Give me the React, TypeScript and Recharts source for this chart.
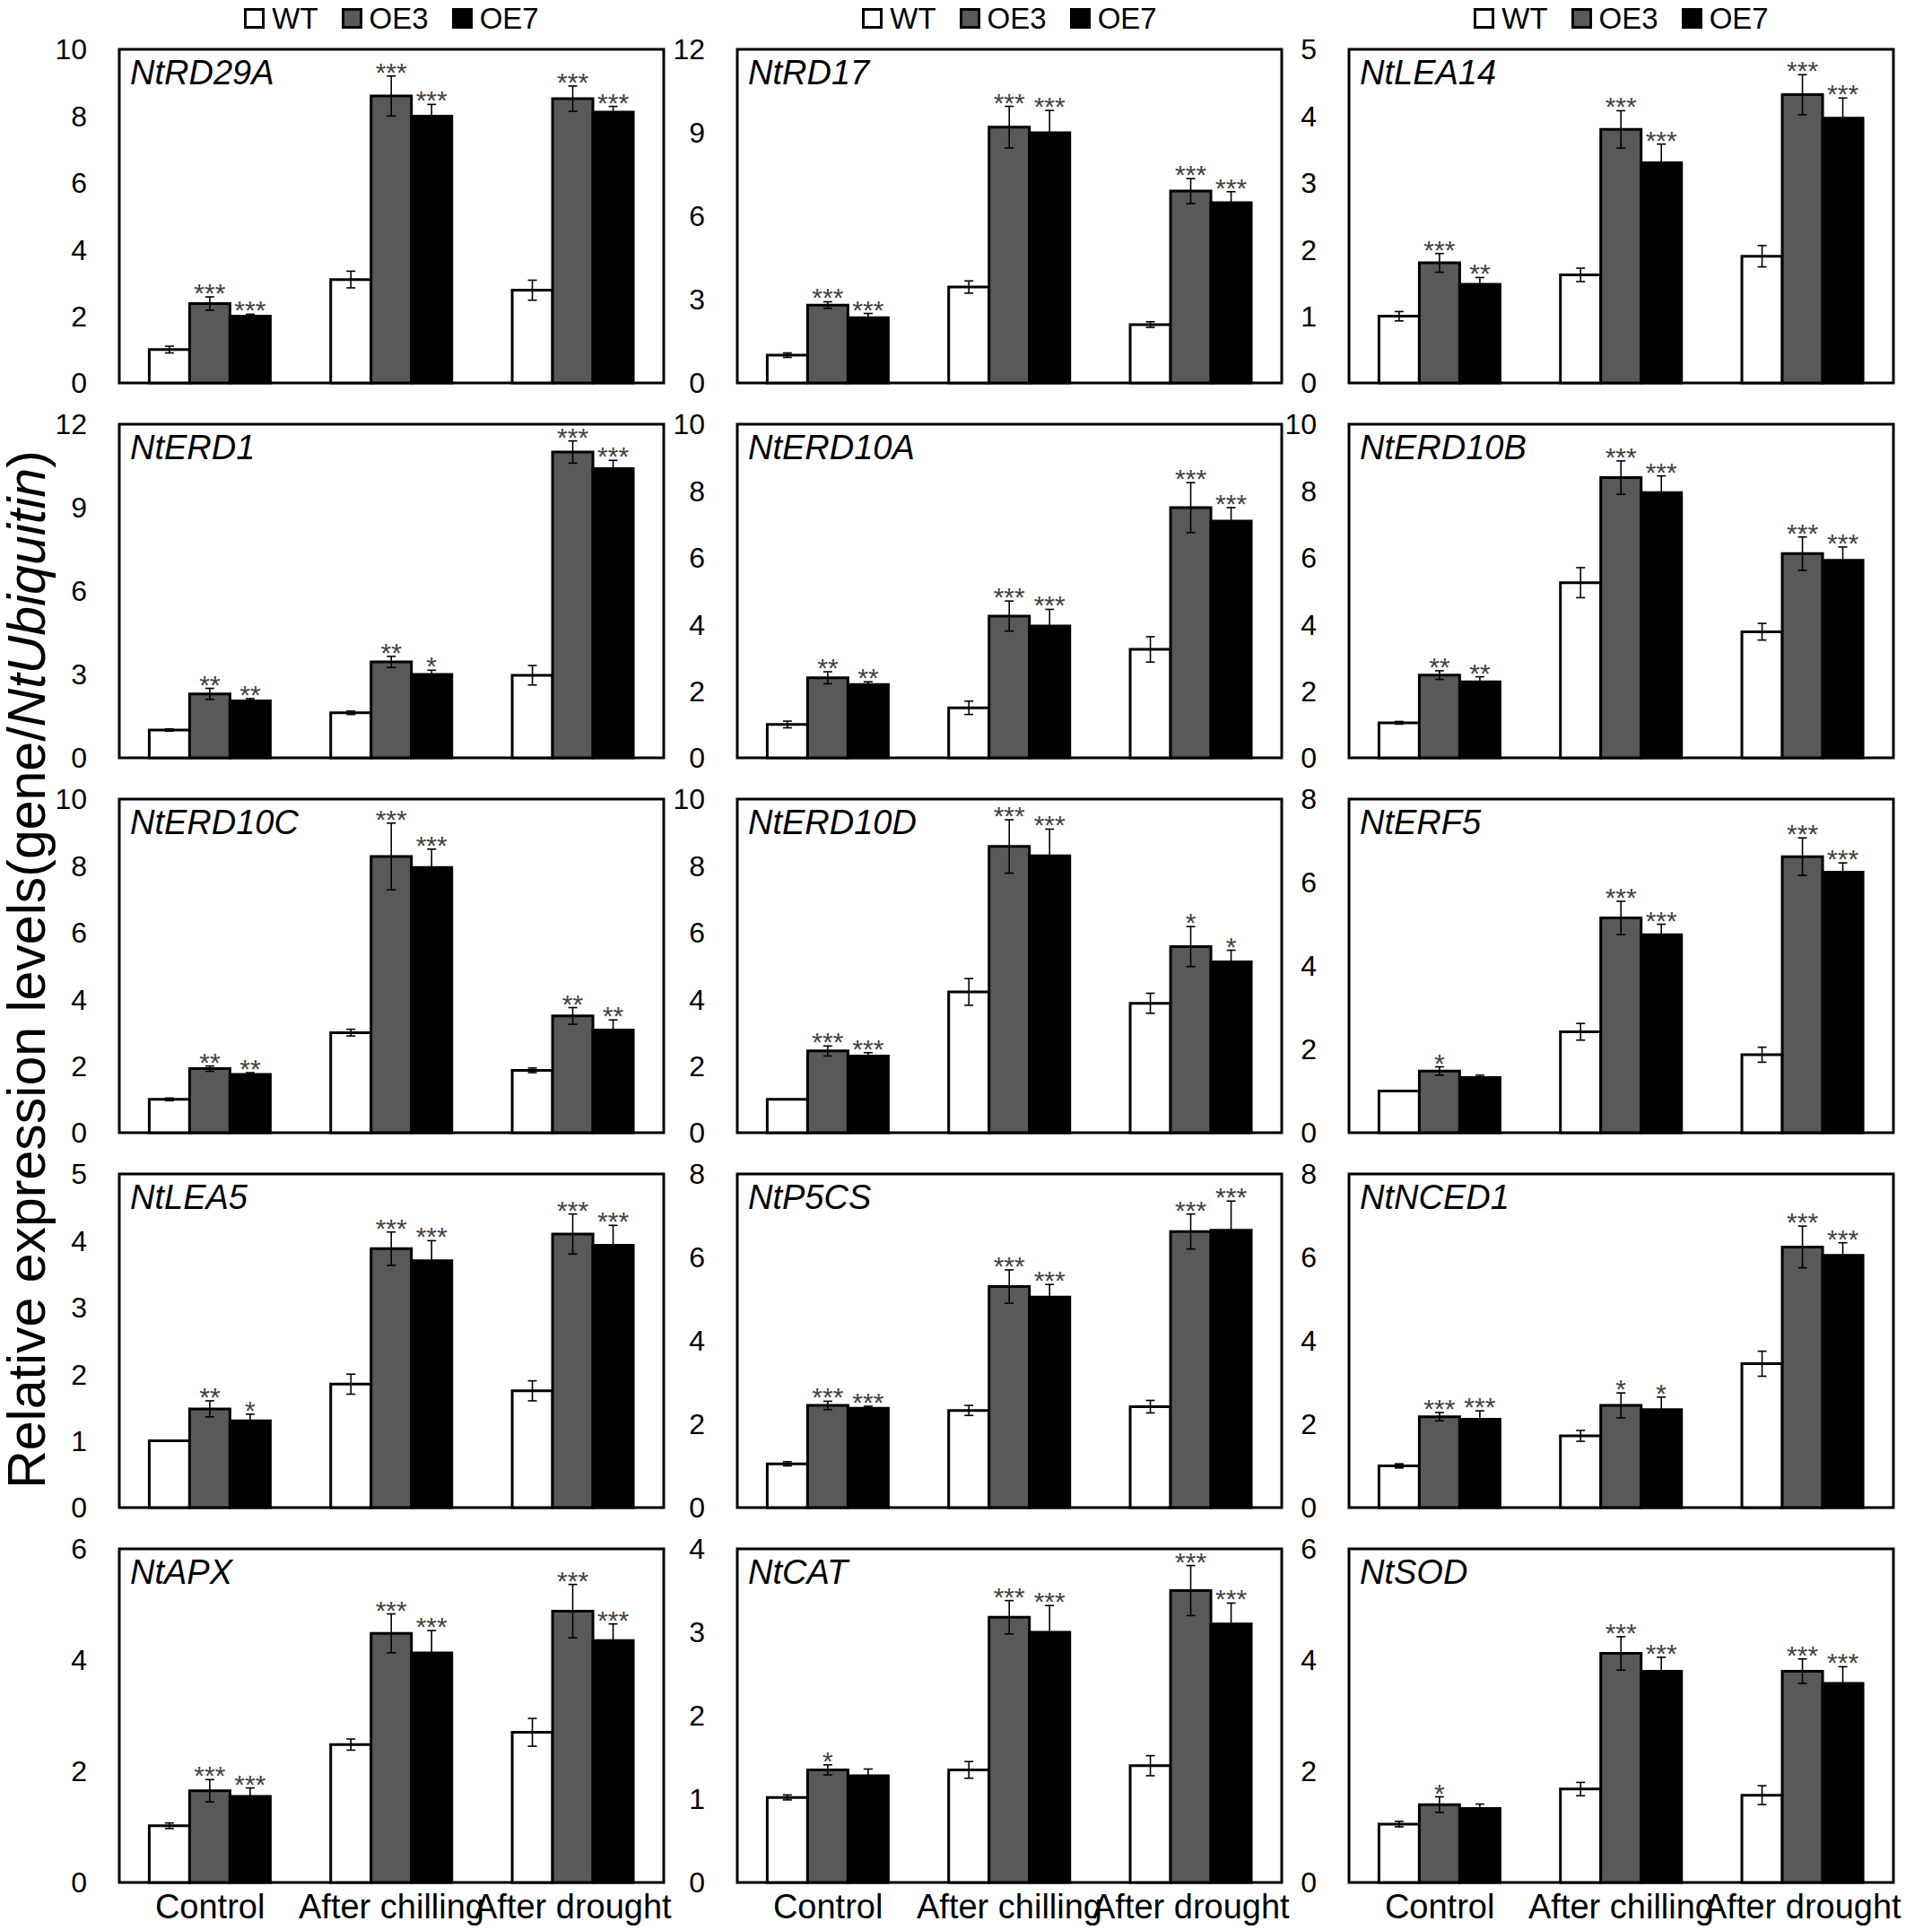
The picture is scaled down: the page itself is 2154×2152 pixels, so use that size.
import React from "react";
import {
  BarChart,
  Bar,
  XAxis,
  YAxis,
  ErrorBar,
  LabelList,
  Legend,
  ReferenceArea,
} from "recharts";

const FONT = "'Liberation Sans', Arial, sans-serif";

const categories = ["Control", "After chilling", "After drought"];
const seriesNames = ["WT", "OE3", "OE7"];

const genes = [
  "NtRD29A", "NtRD17", "NtLEA14",
  "NtERD1", "NtERD10A", "NtERD10B",
  "NtERD10C", "NtERD10D", "NtERF5",
  "NtLEA5", "NtP5CS", "NtNCED1",
  "NtAPX", "NtCAT", "NtSOD",
];

const yTicks = [
  [0, 2, 4, 6, 8, 10], [0, 3, 6, 9, 12], [0, 1, 2, 3, 4, 5],
  [0, 3, 6, 9, 12], [0, 2, 4, 6, 8, 10], [0, 2, 4, 6, 8, 10],
  [0, 2, 4, 6, 8, 10], [0, 2, 4, 6, 8, 10], [0, 2, 4, 6, 8],
  [0, 1, 2, 3, 4, 5], [0, 2, 4, 6, 8], [0, 2, 4, 6, 8],
  [0, 2, 4, 6], [0, 1, 2, 3, 4], [0, 2, 4, 6],
];

// WT
const wtMean = [
  [1.0, 3.1, 2.78], [1.0, 3.45, 2.1], [1.0, 1.62, 1.9],
  [1.0, 1.62, 2.97], [1.0, 1.5, 3.25], [1.05, 5.25, 3.78],
  [1.0, 3.0, 1.87], [1.0, 4.22, 3.88], [1.0, 2.42, 1.87],
  [1.0, 1.85, 1.75], [1.05, 2.33, 2.42], [1.0, 1.72, 3.45],
  [1.02, 2.48, 2.7], [1.02, 1.35, 1.4], [1.05, 1.68, 1.57],
];
const wtErr = [
  [0.1, 0.25, 0.3], [0.08, 0.22, 0.1], [0.07, 0.1, 0.16],
  [0.04, 0.06, 0.35], [0.1, 0.2, 0.38], [0.04, 0.45, 0.25],
  [0.04, 0.1, 0.07], [0, 0.4, 0.3], [0, 0.2, 0.18],
  [0, 0.15, 0.15], [0.05, 0.12, 0.15], [0.05, 0.13, 0.3],
  [0.05, 0.1, 0.25], [0.03, 0.1, 0.12], [0.05, 0.12, 0.17],
];

// OE3
const oe3Mean = [
  [2.38, 8.6, 8.52], [2.8, 9.2, 6.9], [1.8, 3.8, 4.32],
  [2.3, 3.45, 11.0], [2.4, 4.25, 7.5], [2.48, 8.4, 6.12],
  [1.92, 8.28, 3.5], [2.45, 8.58, 5.58], [1.48, 5.15, 6.62],
  [1.48, 3.88, 4.1], [2.45, 5.3, 6.62], [2.18, 2.45, 6.25],
  [1.65, 4.48, 4.88], [1.35, 3.18, 3.5], [1.4, 4.12, 3.8],
];
const oe3Err = [
  [0.2, 0.6, 0.38], [0.12, 0.75, 0.45], [0.14, 0.28, 0.3],
  [0.2, 0.2, 0.4], [0.18, 0.45, 0.75], [0.13, 0.5, 0.5],
  [0.08, 1.0, 0.25], [0.15, 0.8, 0.6], [0.1, 0.4, 0.45],
  [0.12, 0.25, 0.3], [0.1, 0.4, 0.42], [0.1, 0.3, 0.5],
  [0.2, 0.35, 0.48], [0.06, 0.2, 0.3], [0.14, 0.3, 0.22],
];
const oe3Sig = [
  ["***", "***", "***"], ["***", "***", "***"], ["***", "***", "***"],
  ["**", "**", "***"], ["**", "***", "***"], ["**", "***", "***"],
  ["**", "***", "**"], ["***", "***", "*"], ["*", "***", "***"],
  ["**", "***", "***"], ["***", "***", "***"], ["***", "*", "***"],
  ["***", "***", "***"], ["*", "***", "***"], ["*", "***", "***"],
];

// OE7
const oe7Mean = [
  [2.0, 8.0, 8.12], [2.35, 9.0, 6.48], [1.48, 3.3, 3.97],
  [2.05, 3.0, 10.4], [2.2, 3.95, 7.1], [2.28, 7.95, 5.92],
  [1.75, 7.95, 3.08], [2.3, 8.3, 5.12], [1.32, 4.75, 6.25],
  [1.3, 3.7, 3.93], [2.38, 5.05, 6.65], [2.12, 2.35, 6.05],
  [1.55, 4.13, 4.35], [1.28, 3.0, 3.1], [1.33, 3.8, 3.58],
];
const oe7Err = [
  [0.06, 0.35, 0.17], [0.15, 0.8, 0.4], [0.1, 0.28, 0.3],
  [0.08, 0.15, 0.3], [0.08, 0.5, 0.4], [0.15, 0.5, 0.4],
  [0.05, 0.55, 0.3], [0.1, 0.8, 0.35], [0.06, 0.25, 0.22],
  [0.1, 0.3, 0.3], [0.05, 0.3, 0.7], [0.2, 0.3, 0.3],
  [0.15, 0.4, 0.3], [0.08, 0.32, 0.25], [0.08, 0.25, 0.3],
];
const oe7Sig = [
  ["***", "***", "***"], ["***", "***", "***"], ["**", "***", "***"],
  ["**", "*", "***"], ["**", "***", "***"], ["**", "***", "***"],
  ["**", "***", "**"], ["***", "***", "*"], ["", "***", "***"],
  ["*", "***", "***"], ["***", "***", "***"], ["***", "*", "***"],
  ["***", "***", "***"], ["", "***", "***"], ["", "***", "***"],
];

// layout
const colLeft = [133, 822, 1504];
const rowTop = [55, 473, 891, 1309, 1727];
const PLOT_W = 607;
const PLOT_H = 372;
const YW = 75;
const MR = 40;
const MT = 24;
const MB = 20;
const LEG_H = 31;
const XH = 56;

const buildRows = (g: number) =>
  categories.map((c, j) => ({
    cat: c,
    wt: wtMean[g][j],
    wtErr: wtErr[g][j],
    oe3: oe3Mean[g][j],
    oe3Err: oe3Err[g][j],
    oe3Sig: oe3Sig[g][j],
    oe7: oe7Mean[g][j],
    oe7Err: oe7Err[g][j],
    oe7Sig: oe7Sig[g][j],
  }));

const makeStars = (rows: any[], key: string) => (props: any) => {
  const vb = props.viewBox || {};
  const x = props.x ?? vb.x;
  const y = props.y ?? vb.y;
  const width = props.width ?? vb.width;
  const height = props.height ?? vb.height;
  const row = rows[props.index];
  if (!row || !row[key + "Sig"]) return null;
  const errPx = (row[key + "Err"] / row[key]) * height;
  return (
    <text
      x={x + width / 2}
      y={y - errPx + 6}
      textAnchor="middle"
      fontSize={30}
      fill="#444"
      fontFamily={FONT}
    >
      {row[key + "Sig"]}
    </text>
  );
};

const renderLegend = (props: any) => {
  const items = [...(props.payload || [])].sort(
    (a: any, b: any) => seriesNames.indexOf(a.value) - seriesNames.indexOf(b.value)
  );
  return (
    <div
      style={{
        display: "flex",
        justifyContent: "center",
        alignItems: "center",
        gap: 26,
        height: LEG_H,
        fontFamily: FONT,
        fontSize: 33,
        color: "#000",
        lineHeight: 1,
        boxSizing: "border-box",
      }}
    >
      {items.map((e: any) => (
        <div key={e.value} style={{ display: "flex", alignItems: "center" }}>
          <span
            style={{
              display: "inline-block",
              width: 17,
              height: 17,
              border: "3px solid #000",
              background: e.color,
              marginRight: 8,
            }}
          />
          {e.value}
        </div>
      ))}
    </div>
  );
};

function Panel({ g }: { g: number }) {
  const row = Math.floor(g / 3);
  const col = g % 3;
  const rows = buildRows(g);
  const ticks = yTicks[g];
  const yMax = ticks[ticks.length - 1];
  const isTop = row === 0;
  const isBottom = row === 4;
  const width = YW + PLOT_W + MR;
  const height = MT + (isTop ? LEG_H : 0) + PLOT_H + (isBottom ? XH : MB);
  return (
    <div
      style={{
        position: "absolute",
        left: colLeft[col] - YW,
        top: isTop ? 0 : rowTop[row] - MT,
        width,
        height,
      }}
    >
      <BarChart
        width={width}
        height={height}
        data={rows}
        margin={{ top: MT, right: MR, left: 0, bottom: isBottom ? 0 : MB }}
        barCategoryGap="16.5%"
        barGap={0}
      >
        <XAxis
          dataKey="cat"
          hide={!isBottom}
          height={XH}
          axisLine={false}
          tickLine={false}
          tickMargin={7}
          interval={0}
          tick={{ fontSize: 38, fill: "#000", fontFamily: FONT }}
        />
        <YAxis
          width={YW}
          domain={[0, yMax]}
          ticks={ticks}
          interval={0}
          axisLine={false}
          tickLine={false}
          tickMargin={30}
          tick={{ fontSize: 32, fill: "#000", fontFamily: FONT }}
        />
        {isTop && (
          <Legend
            verticalAlign="top"
            align="center"
            height={LEG_H}
            content={renderLegend}
            wrapperStyle={{ left: YW, width: PLOT_W, top: 5 }}
          />
        )}
        <Bar
          dataKey="wt"
          name="WT"
          fill="#ffffff"
          stroke="#000"
          strokeWidth={3}
          isAnimationActive={false}
        >
          <ErrorBar dataKey="wtErr" width={5} stroke="#000" strokeWidth={1.6} />
        </Bar>
        <Bar
          dataKey="oe3"
          name="OE3"
          fill="#595959"
          stroke="#000"
          strokeWidth={3}
          isAnimationActive={false}
        >
          <ErrorBar dataKey="oe3Err" width={5} stroke="#000" strokeWidth={1.6} />
          <LabelList dataKey="oe3Sig" content={makeStars(rows, "oe3")} />
        </Bar>
        <Bar
          dataKey="oe7"
          name="OE7"
          fill="#000000"
          stroke="#000"
          strokeWidth={3}
          isAnimationActive={false}
        >
          <ErrorBar dataKey="oe7Err" width={5} stroke="#000" strokeWidth={1.6} />
          <LabelList dataKey="oe7Sig" content={makeStars(rows, "oe7")} />
        </Bar>
        <ReferenceArea
          y1={0}
          y2={yMax}
          fill="none"
          fillOpacity={0}
          stroke="#000"
          strokeWidth={3}
          ifOverflow="visible"
          label={{
            value: genes[g],
            position: "insideTopLeft",
            offset: 12,
            fontSize: 38,
            fontStyle: "italic",
            fill: "#000",
            fontFamily: FONT,
          }}
        />
      </BarChart>
    </div>
  );
}

export default function App() {
  return (
    <div
      style={{
        position: "absolute",
        left: 0,
        top: 0,
        width: 2154,
        height: 2152,
        background: "#fff",
        fontFamily: FONT,
      }}
    >
      {genes.map((_, g) => (
        <Panel key={g} g={g} />
      ))}
      <div
        style={{
          position: "absolute",
          left: 30,
          top: 1081,
          transform: "translate(-50%, -50%) rotate(-90deg)",
          whiteSpace: "nowrap",
          fontSize: 59,
          color: "#000",
          lineHeight: 1,
        }}
      >
        Relative expression levels(gene/<i>NtUbiquitin</i>)
      </div>
    </div>
  );
}
